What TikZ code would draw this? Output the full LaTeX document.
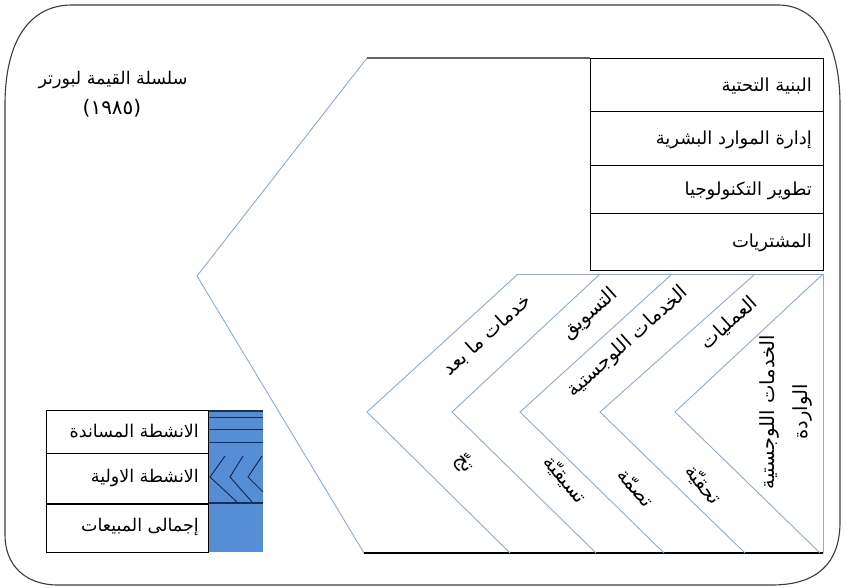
\documentclass[tikz,border=0pt]{standalone}
\usepackage{fontspec}
\TeXXeTstate=1
\newfontfamily\arabicfont[Script=Arabic]{DejaVu Sans}
\newfontfamily\plainfont{DejaVu Sans}
\definecolor{chev}{RGB}{140,172,214}
\definecolor{legblue}{RGB}{85,142,213}
\definecolor{navy}{RGB}{25,45,90}
\definecolor{frame}{RGB}{60,60,60}
\begin{document}
\begin{tikzpicture}[x=1pt,y=-1pt,
  ar/.style={font=\arabicfont\fontsize{18}{21}\selectfont, inner sep=0pt},
  arbig/.style={font=\arabicfont\fontsize{19.5}{22}\selectfont, inner sep=0pt},
  chevline/.style={draw=chev, line width=0.9pt},
  rowbox/.style={draw=black, line width=1pt, minimum width=233pt, anchor=north west, inner sep=0pt, fill=white},
  legbox/.style={draw=black, line width=1.1pt, minimum width=162pt, anchor=north west, inner sep=0pt, fill=white},
  navyline/.style={draw=navy, line width=1pt}
]
\useasboundingbox (0,0) rectangle (846,588);
\fill[white] (0,0) rectangle (846,588);
% outer frame
\draw[frame, line width=1.1pt] (5,105) .. controls (5,40) and (30,5) .. (72,5) -- (778,5)
  .. controls (815,5) and (840,40) .. (840,105) -- (840,522)
  .. controls (840,565) and (815,585) .. (772,585) -- (58,585)
  .. controls (25,585) and (5,565) .. (5,535) -- cycle;

% title
\node[ar, font=\arabicfont\fontsize{17.5}{21}\selectfont] (title) at (113,80) {\beginR سلسلة القيمة لبورتر\endR};
\node[inner sep=0pt, font=\plainfont\fontsize{20}{22}\selectfont] (year) at (112,108) {(١٩٨٥)};

% support activity rows
\node[rowbox, minimum height=53pt] (r1) at (590,58) {};
\node[rowbox, minimum height=54pt] (r2) at (590,111) {};
\node[rowbox, minimum height=48pt] (r3) at (590,165) {};
\node[rowbox, minimum height=57pt] (r4) at (590,213) {};
\node[ar, anchor=east] (t1) at (812,86) {\beginR البنية التحتية\endR};
\node[ar, anchor=east] (t2) at (812,140) {\beginR إدارة الموارد البشرية\endR};
\node[ar, anchor=east] (t3) at (812,191) {\beginR تطوير التكنولوجيا\endR};
\node[ar, anchor=east] (t4) at (812,243) {\beginR المشتريات\endR};

% big chevron
\coordinate (mt) at (367,58);
\coordinate (ma) at (197,276);
\coordinate (mb) at (364,553);
\coordinate (br) at (823,553);
\draw[chevline] (mt) -- (ma) -- (mb);
\draw[draw=frame!80, line width=1.6pt] (mt) -- (r1.north west);
\draw[black, line width=1.3pt] (mb) -- (br);

% lower section
\coordinate (c1t) at (518,274); \coordinate (c1a) at (367,412); \coordinate (c1b) at (510,553);
\coordinate (c2t) at (600,274); \coordinate (c2a) at (452,412); \coordinate (c2b) at (596,553);
\coordinate (c3t) at (672,274); \coordinate (c3a) at (520,412); \coordinate (c3b) at (664,553);
\coordinate (c4t) at (755,274); \coordinate (c4a) at (600,412); \coordinate (c4b) at (745,553);
\coordinate (c5t) at (823,274); \coordinate (c5a) at (675,412); \coordinate (c5b) at (820,553);
\draw[chevline] (c1t) -- (c5t) -- (br);
\foreach \i in {1,...,5} {\draw[chevline] (c\i t) -- (c\i a) -- (c\i b);}

% primary labels
\node[arbig, rotate=42] (p1) at (487,335) {\beginR خدمات ما بعد\endR};
\node[arbig, rotate=42] (p2) at (590,314) {\beginR التسويق\endR};
\node[arbig, rotate=42] (p3) at (628,342) {\beginR الخدمات اللوجستية\endR};
\node[arbig, rotate=42] (p4) at (729,323) {\beginR العمليات\endR};
\node[arbig, rotate=90, align=center, font=\arabicfont\fontsize{19.5}{33}\selectfont] (p5) at (786,412) {\beginR الخدمات اللوجستية\endR\\\beginR الواردة\endR};

% garbled glyphs
\node[arbig, rotate=-50] (g1) at (464,463) {\beginR تجّ\endR};
\node[arbig, rotate=-50] (g2) at (565,480) {\beginR تسيقيّة\endR};
\node[arbig, rotate=-50] (g3) at (636,488) {\beginR تصمّة\endR};
\node[arbig, rotate=-50] (g4) at (703,485) {\beginR تحقيّة\endR};

% legend
\fill[legblue] (208,410) rectangle (263,552);
\draw[navyline, line width=1.6pt] (208,411) -- (263,411);
\draw[navyline] (208,417) -- (263,417);
\draw[navyline] (208,429) -- (263,429);
\draw[navyline] (208,442) -- (263,442);
\draw[navyline] (225,456) -- (210,477) -- (237,502);
\draw[navyline] (243,456) -- (230,477) -- (252,502);
\draw[navyline] (262,456) -- (248,477) -- (263,492);
\draw[navyline, line width=1.4pt] (208,503) -- (263,503);
\node[legbox, minimum height=43pt] (l1) at (46,410) {};
\node[legbox, minimum height=50pt] (l2) at (46,453) {};
\node[legbox, minimum height=49pt] (l3) at (46,503) {};
\draw[black, line width=1.8pt] (l2.south west) -- (l2.south east);
\node[ar, anchor=east, font=\arabicfont\fontsize{17.5}{21}\selectfont] (lt1) at (199,431) {\beginR الانشطة المساندة\endR};
\node[ar, anchor=east, font=\arabicfont\fontsize{17.5}{21}\selectfont] (lt2) at (199,478) {\beginR الانشطة الاولية\endR};
\node[ar, anchor=east, font=\arabicfont\fontsize{17.5}{21}\selectfont] (lt3) at (199,527) {\beginR إجمالى المبيعات\endR};
\end{tikzpicture}
\end{document}
